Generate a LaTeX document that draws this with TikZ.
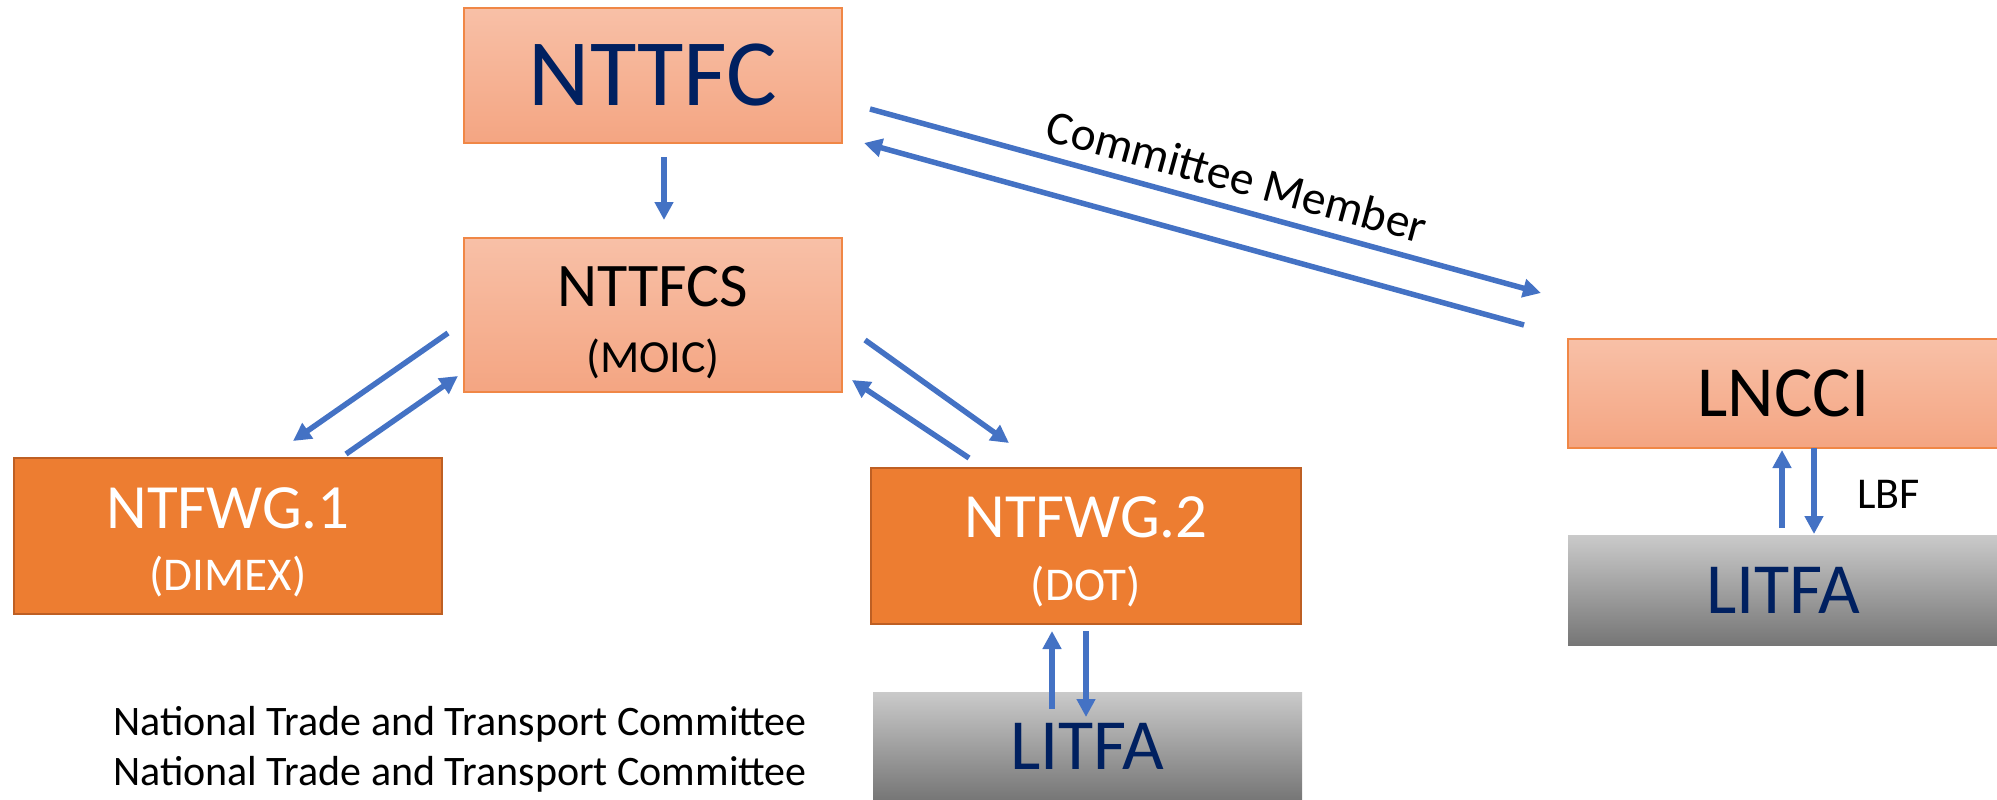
\documentclass[tikz,border=0pt]{standalone}
\usepackage{fontspec}
\setmainfont{Carlito}
\usetikzlibrary{arrows.meta}
\definecolor{salTop}{RGB}{248,192,167}
\definecolor{salBot}{RGB}{244,165,130}
\definecolor{salLine}{RGB}{240,135,70}
\definecolor{orgFill}{RGB}{237,125,49}
\definecolor{orgLine}{RGB}{190,95,35}
\definecolor{grayTop}{RGB}{202,202,202}
\definecolor{grayBot}{RGB}{118,118,118}
\definecolor{navy}{RGB}{0,32,96}
\definecolor{arrowblue}{RGB}{68,114,196}
\newcommand{\fs}[1]{\fontsize{#1}{#1}\selectfont}
\tikzset{
  salbox/.style={draw=salLine, line width=1.5pt, top color=salTop, bottom color=salBot, inner sep=0pt},
  orgbox/.style={draw=orgLine, line width=2.5pt, fill=orgFill, inner sep=0pt},
  graybox/.style={top color=grayTop, bottom color=grayBot, inner sep=0pt},
  conn/.style={draw=arrowblue, line width=5.5pt, -{Triangle[length=18pt,width=18pt]}},
  lbl/.style={inner sep=0pt, anchor=base},
}
\begin{document}
\begin{tikzpicture}[x=1pt,y=-1pt]
\useasboundingbox (0,0) rectangle (1997,800);
% boxes
\node[salbox, minimum width=378pt, minimum height=135pt, text=navy, font=\fs{95}] (nttfc) at (653,75.5) {NTTFC};
\node[salbox, minimum width=378pt, minimum height=154pt] (nttfcs) at (653,315) {};
\node[orgbox, minimum width=428pt, minimum height=156pt] (ntfwg1) at (228,536) {};
\node[orgbox, minimum width=430pt, minimum height=156pt] (ntfwg2) at (1086,546) {};
\node[graybox, minimum width=429pt, minimum height=108pt, text=navy, font=\fs{72}] (litfaB) at (1087.5,746) {LITFA};
\node[salbox, minimum width=431pt, minimum height=109pt, font=\fs{72}] (lncci) at (1783.5,393.5) {LNCCI};
\node[graybox, minimum width=431pt, minimum height=110pt, text=navy, font=\fs{72}] (litfaR) at (1783.5,590) {LITFA};
% texts inside two-line boxes
\node[lbl, font=\fs{62}] (t1) at (653,306) {NTTFCS};
\node[lbl, font=\fs{46}] (t2) at (653,372) {(MOIC)};
\node[lbl, font=\fs{63}, text=white] (t3) at (228,528) {NTFWG.1};
\node[lbl, font=\fs{47}, text=white] (t4) at (228,590) {(DIMEX)};
\node[lbl, font=\fs{63}, text=white] (t5) at (1086,537) {NTFWG.2};
\node[lbl, font=\fs{47}, text=white] (t6) at (1086,600) {(DOT)};
% free texts
\node[inner sep=0pt, font=\fs{47.5}, rotate=-15.3] (cm) at (1237,176) {Committee Member};
\node[lbl, anchor=base west, font=\fs{44}] (lbf) at (1857,508) {LBF};
\node[lbl, anchor=base west, font=\fs{42}] (nt1) at (113,735) {National Trade and Transport Committee};
\node[lbl, anchor=base west, font=\fs{42}] (nt2) at (113,785) {National Trade and Transport Committee};
% connector end points
\coordinate (a1s) at (664,157); \coordinate (a1e) at (664,220);
\coordinate (c1s) at (870,109); \coordinate (c1e) at (1541,293);
\coordinate (c2s) at (1524,325); \coordinate (c2e) at (864,143);
\coordinate (l1s) at (448,333); \coordinate (l1e) at (293,441);
\coordinate (l2s) at (346,454); \coordinate (l2e) at (458,376);
\coordinate (r1s) at (865,340); \coordinate (r1e) at (1009,443);
\coordinate (r2s) at (969,458); \coordinate (r2e) at (852,380);
\coordinate (b1s) at (1052,709); \coordinate (b1e) at (1052,631);
\coordinate (b2s) at (1086,631); \coordinate (b2e) at (1086,717);
\coordinate (s1s) at (1782,528); \coordinate (s1e) at (1782,450);
\coordinate (s2s) at (1814,448); \coordinate (s2e) at (1814,534);
% connectors
\draw[conn] (a1s) -- (a1e);
\draw[conn] (c1s) -- (c1e);
\draw[conn] (c2s) -- (c2e);
\draw[conn] (l1s) -- (l1e);
\draw[conn] (l2s) -- (l2e);
\draw[conn] (r1s) -- (r1e);
\draw[conn] (r2s) -- (r2e);
\draw[conn] (b1s) -- (b1e);
\draw[conn] (b2s) -- (b2e);
\draw[conn] (s1s) -- (s1e);
\draw[conn] (s2s) -- (s2e);
\end{tikzpicture}
\end{document}
